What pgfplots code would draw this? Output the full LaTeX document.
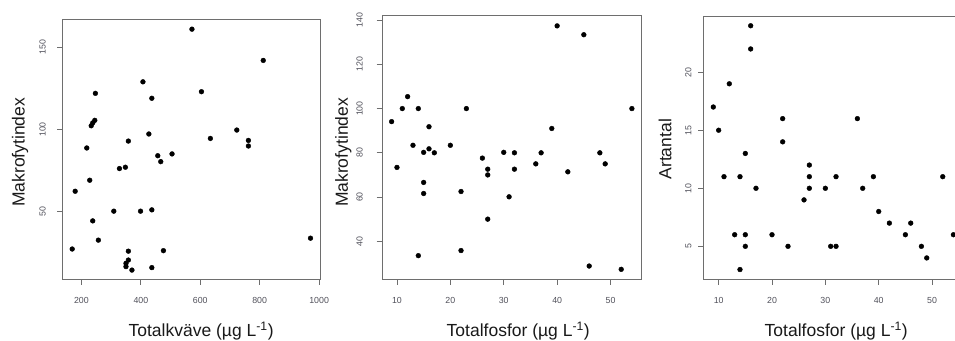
\documentclass[border=0pt]{standalone}
\usepackage{pgfplots}
\pgfplotsset{compat=1.18}
\usetikzlibrary{calc}
\usepackage{fontspec}
\setmainfont{Liberation Sans}
\definecolor{boxgray}{RGB}{110,110,110}
\definecolor{ticklab}{RGB}{80,80,90}
\definecolor{labcol}{RGB}{25,25,25}

\pgfplotsset{
  rstyle/.style={
    scale only axis,
    axis line style={boxgray, line width=0.8pt},
    tick style={boxgray, line width=0.8pt},
    tick align=outside,
    major tick length=5.5pt,
    xtick pos=bottom, ytick pos=left,
    ticklabel style={font=\fontsize{8.8}{10}\selectfont, text=ticklab},
    /pgf/number format/assume math mode=true,
    /pgf/number format/1000 sep={},
    label style={font=\fontsize{17.5}{20}\selectfont, text=labcol},
  },
  dots/.style={only marks, mark=*, mark size=2.4pt, black, mark options={fill=black, draw=black}},
}

\begin{document}
\begin{tikzpicture}
% Panel 1
\begin{axis}[rstyle,
  at={(62.7pt,60.7pt)}, anchor=south west,
  width=257.3pt, height=260pt,
  xmin=137, xmax=1003, ymin=9, ymax=167,
  xtick={200,400,600,800,1000}, ytick={50,100,150},
  xticklabel style={anchor=center, yshift=-15.5pt},
  yticklabel style={anchor=center, xshift=-14.7pt, rotate=90},
  xlabel={Totalkväve (µg L\textsuperscript{-1})},
  ylabel={Makrofytindex},
  xlabel style={at={($(axis description cs:0.538,0)+(0pt,-57pt)$)}, anchor=base},
  ylabel style={at={($(axis description cs:0,0.488)+(-42.7pt,0pt)$)}, anchor=center},
]
\addplot[dots] coordinates {
(572,161) (812,142) (407,129) (604,123) (247,122) (437,119)
(233,102.3) (238,104) (245,105.6)
(427,97.3) (723,99.7) (634,94.6) (762,93.4) (762,90) (358,93)
(218,88.8) (505,85.2) (457,84.1) (467,80.5) (328,76.3) (348,77.1)
(228,69.2) (179,62.5) (309,50.4) (399,50.4) (437,51.2) (238,44.5)
(257,32.8) (971,34) (169,27.4) (358,26.1) (476,26.4) (358,20.7)
(350,18.7) (350,16.7) (370,14.6) (437,16.1)
};
\end{axis}
% Panel 2
\begin{axis}[rstyle,
  at={(382pt,60.7pt)}, anchor=south west,
  width=259.5pt, height=263.6pt,
  xmin=7.2, xmax=55.8, ymin=22.8, ymax=142,
  xtick={10,20,30,40,50}, ytick={40,60,80,100,120,140},
  xticklabel style={anchor=center, yshift=-15.5pt},
  yticklabel style={anchor=center, xshift=-16.8pt, rotate=90},
  xlabel={Totalfosfor (µg L\textsuperscript{-1})},
  ylabel={Makrofytindex},
  xlabel style={at={($(axis description cs:0.525,0)+(0pt,-57pt)$)}, anchor=base},
  ylabel style={at={($(axis description cs:0,0.481)+(-38.7pt,0pt)$)}, anchor=center},
]
\addplot[dots] coordinates {
(9,94.1) (10,73.4) (11,100) (12,105.4) (13,83.4) (14,100) (14,33.5)
(15,80.2) (15,66.6) (15,61.6) (16,91.8) (16,81.8) (17,80) (20,83.4)
(22,62.5) (22,35.8) (23,100) (26,77.6) (27,72.6) (27,70) (27,50)
(30,80.2) (31,60.1) (32,80) (32,72.6) (36,75) (37,80) (39,91)
(40,137.4) (42,71.4) (45,133.4) (46,28.8) (48,80) (49,75) (52,27.3) (54,100)
};
\end{axis}
% Panel 3
\begin{axis}[rstyle,
  at={(703.7pt,60.7pt)}, anchor=south west,
  width=259.3pt, height=263.3pt,
  xmin=7.2, xmax=55.8, ymin=2.16, ymax=24.84,
  xtick={10,20,30,40,50}, ytick={5,10,15,20},
  xticklabel style={anchor=center, yshift=-15.5pt},
  yticklabel style={anchor=center, xshift=-9.8pt, rotate=90},
  xlabel={Totalfosfor (µg L\textsuperscript{-1})},
  ylabel={Artantal},
  xlabel style={at={($(axis description cs:0.511,0)+(0pt,-57pt)$)}, anchor=base},
  ylabel style={at={($(axis description cs:0,0.494)+(-38.7pt,0pt)$)}, anchor=center},
]
\addplot[dots] coordinates {
(9,17) (10,15) (11,11) (12,19) (13,6) (14,11) (14,3)
(15,13) (15,6) (15,5) (16,24) (16,22) (17,10) (20,6)
(22,16) (22,14) (23,5) (26,9) (27,12) (27,11) (27,10)
(30,10) (31,5) (32,11) (32,5) (36,16) (37,10) (39,11)
(40,8) (42,7) (45,6) (46,7) (48,5) (49,4) (52,11) (54,6)
};
\end{axis}
\pgfresetboundingbox
\path[use as bounding box] (0pt,0pt) rectangle (955pt,340pt);
\end{tikzpicture}
\end{document}
